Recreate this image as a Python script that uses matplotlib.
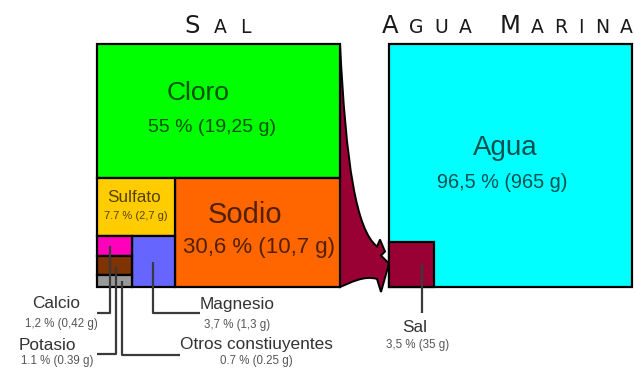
import matplotlib
matplotlib.use("Agg")
import matplotlib.pyplot as plt
import numpy as np
from matplotlib.patches import Rectangle, PathPatch
from matplotlib.path import Path

# composición de la sal (porcentaje sobre 35 g de sal)
sal_nombres = ["Cloro", "Sodio", "Sulfato", "Magnesio", "Calcio", "Potasio", "Otros constiuyentes"]
sal_pct = [55, 30.6, 7.7, 3.7, 1.2, 1.1, 0.7]
sal_textos = ["55 % (19,25 g)", "30,6 % (10,7 g)", "7.7 % (2,7 g)", "3,7 % (1,3 g)",
              "1,2 % (0,42 g)", "1.1 % (0.39 g)", "0.7 % (0.25 g)"]
sal_colores = ["#00ff00", "#ff6600", "#ffcc00", "#6666ff", "#ff00bb", "#7f3300", "#999999"]

# agua marina (por 1000 g)
mar_nombres = ["Agua", "Sal"]
mar_pct = [96.5, 3.5]
mar_textos = ["96,5 % (965 g)", "3,5 % (35 g)"]
mar_colores = ["#00ffff", "#990033"]

FUENTE = ["Liberation Sans", "DejaVu Sans"]

fig = plt.figure(figsize=(6.35, 3.68), dpi=100)
ax = fig.add_axes([0, 0, 1, 1])
ax.set_xlim(0, 635)
ax.set_ylim(368, 0)
ax.axis("off")

LADO = 243
IZQ = (97, 44)
DER = (389, 44)


def caja(x, y, w, h, color, z=2):
    ax.add_patch(Rectangle((x, y), w, h, facecolor=color, edgecolor="black", lw=1.6, zorder=z))


# --- cuadrado de la sal: reparto por áreas ---
p = dict(zip(sal_nombres, sal_pct))
area = LADO * LADO / 100.0
x0, y0 = IZQ
h_cloro = LADO * p["Cloro"] / 100.0
y_resto = y0 + h_cloro
h_resto = LADO - h_cloro
w_sodio = p["Sodio"] * area / h_resto
w_col = LADO - w_sodio
h_sulf = p["Sulfato"] * area / w_col
h_peq = h_resto - h_sulf
y_peq = y_resto + h_sulf
w_peq = (p["Calcio"] + p["Potasio"] + p["Otros constiuyentes"]) * area / h_peq

rects = {
    "Cloro": (x0, y0, LADO, h_cloro),
    "Sodio": (x0 + w_col, y_resto, w_sodio, h_resto),
    "Sulfato": (x0, y_resto, w_col, h_sulf),
    "Magnesio": (x0 + w_peq, y_peq, w_col - w_peq, h_peq),
}
yy = y_peq
for n in ["Calcio", "Potasio", "Otros constiuyentes"]:
    h = p[n] * area / w_peq
    rects[n] = (x0, yy, w_peq, h)
    yy += h

for n, c in zip(sal_nombres, sal_colores):
    caja(*rects[n], c)

# --- cuadrado del agua marina ---
caja(DER[0], DER[1], LADO, LADO, mar_colores[0])
lado_sal = LADO * np.sqrt(mar_pct[1] / 100.0)
sal_x, sal_y = DER[0], DER[1] + LADO - lado_sal
caja(sal_x, sal_y, lado_sal, lado_sal, mar_colores[1], z=3)

# --- flecha curva de la sal al agua ---
bx = x0 + LADO
top, bot = y0, y0 + LADO
verts = [
    (bx, top),
    (bx + 6, top + 120), (bx + 16, sal_y - 12), (sal_x - 12, sal_y + 5),
    (sal_x - 9, sal_y - 2),
    (sal_x - 4, sal_y + 10),
    (sal_x - 8, sal_y + 14),
    (sal_x, sal_y + 22),
    (sal_x - 8, bot + 5),
    (sal_x - 12, bot - 8),
    (sal_x - 25, bot - 12), (bx + 10, bot - 4), (bx, bot),
    (bx, top),
]
codes = [Path.MOVETO, Path.CURVE4, Path.CURVE4, Path.CURVE4,
         Path.LINETO, Path.LINETO, Path.LINETO, Path.LINETO, Path.LINETO, Path.LINETO,
         Path.CURVE4, Path.CURVE4, Path.CURVE4, Path.CLOSEPOLY]
ax.add_patch(PathPatch(Path(verts, codes), facecolor=mar_colores[1], edgecolor="black",
                       lw=1.4, zorder=1))

# --- títulos en versalitas ---
renderer = fig.canvas.get_renderer()


def versalitas(texto, xc, y_base, ancho, grande=17.5, chica=13.5):
    piezas = []
    for ch in texto:
        if ch == " ":
            piezas.append((None, chica * 0.45))
            continue
        t = ax.text(0, y_base, ch.upper(), fontsize=grande if ch.isupper() else chica,
                    family="DejaVu Sans", color="#1a1a1a", va="baseline", ha="left")
        piezas.append((t, t.get_window_extent(renderer).width))
    total = sum(w for _, w in piezas)
    esp = (ancho - total) / (len(piezas) - 1)
    x = xc - ancho / 2
    for t, w in piezas:
        if t is not None:
            t.set_x(x)
        x += w + esp


versalitas("Sal", x0 + LADO / 2 - 1, 33, 67)
versalitas("Agua Marina", 507, 33, 251)

# --- etiquetas dentro de las cajas ---
tinta = (0, 0, 0, 0.68)


def rotulo(xn, yn, nombre, fn, xv, yv, valor, fv):
    ax.text(xn, yn, nombre, fontsize=fn, family=FUENTE, color=tinta, ha="center", va="center", zorder=5)
    ax.text(xv, yv, valor, fontsize=fv, family=FUENTE, color=tinta, ha="center", va="center", zorder=5)


rotulo(198, 93, sal_nombres[0], 19, 212, 127, sal_textos[0], 14)
rotulo(245, 215, sal_nombres[1], 21, 259, 248, sal_textos[1], 16)
rotulo(134, 197, sal_nombres[2], 12.3, 136, 216, sal_textos[2], 8)
rotulo(505, 148, mar_nombres[0], 20, 502, 183, mar_textos[0], 14.3)

# --- etiquetas externas con líneas guía ---
guia = dict(color="#3a3a3a", lw=1.6, zorder=4, solid_capstyle="butt")


def externa(xn, yn, nombre, xv, yv, valor):
    ax.text(xn, yn, nombre, fontsize=12.4, family=FUENTE, color="#333333", ha="center", va="center")
    ax.text(xv, yv, valor, fontsize=8.3, family=FUENTE, color="#555555", ha="center", va="center")


def centro(n):
    x, y, w, h = rects[n]
    return x + w / 2, y + h / 2


# calcio
xc = x0 + w_peq * 0.38
ax.plot([xc, xc, x0], [centro("Calcio")[1], 313, 313], **guia)
externa(56, 304, sal_nombres[4], 61, 324, sal_textos[4])
# potasio
xp = x0 + w_peq * 0.55
ax.plot([xp, xp, x0], [centro("Potasio")[1], 354, 354], **guia)
externa(47, 345, sal_nombres[5], 57, 361, sal_textos[5])
# otros
xo = x0 + w_peq * 0.72
ax.plot([xo, xo, 180], [centro("Otros constiuyentes")[1], 355, 355], **guia)
externa(256, 345, sal_nombres[6], 256, 361, sal_textos[6])
# magnesio
xm, ym = centro("Magnesio")
ax.plot([xm, xm, 200], [ym, 313, 313], **guia)
externa(237, 304, sal_nombres[3], 237, 325, sal_textos[3])
# sal en el agua
xs = sal_x + lado_sal * 0.72
ax.plot([xs, xs], [sal_y + lado_sal / 2, 313], **guia)
externa(415, 327, mar_nombres[1], 418, 345, mar_textos[1])

fig.savefig("out.png", dpi=100, facecolor="white")
